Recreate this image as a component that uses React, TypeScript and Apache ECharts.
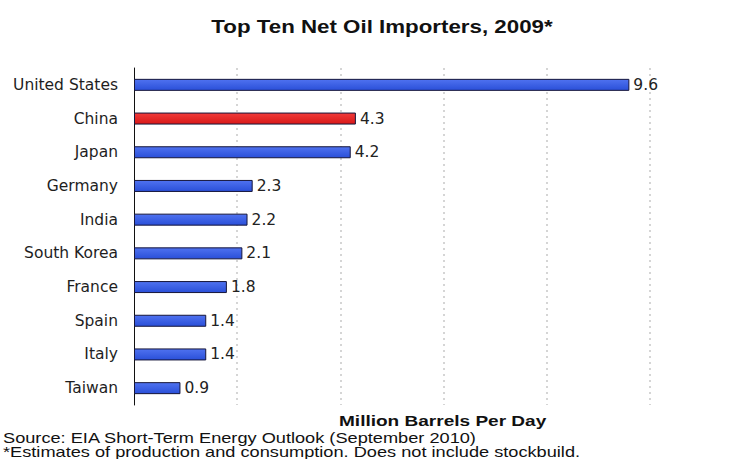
import React, { useEffect, useRef } from "react";
import * as echarts from "echarts";

const countries = [
  "United States",
  "China",
  "Japan",
  "Germany",
  "India",
  "South Korea",
  "France",
  "Spain",
  "Italy",
  "Taiwan",
];
const imports = [9.6, 4.3, 4.2, 2.3, 2.2, 2.1, 1.8, 1.4, 1.4, 0.9];
const highlighted = "China";

const titleText = "Top Ten Net Oil Importers, 2009*";
const unitText = "Million Barrels Per Day";
const sourceText = "Source: EIA Short-Term Energy Outlook (September 2010)";
const noteText = "*Estimates of production and consumption. Does not include stockbuild.";

const BLUE = new echarts.graphic.LinearGradient(0, 0, 0, 1, [
  { offset: 0, color: "#4f72f0" },
  { offset: 1, color: "#2a4fd8" },
]);
const RED = new echarts.graphic.LinearGradient(0, 0, 0, 1, [
  { offset: 0, color: "#f03a3a" },
  { offset: 1, color: "#d81818" },
]);

export default function App() {
  const ref = useRef<HTMLDivElement>(null);
  useEffect(() => {
    if (!ref.current) return;
    const chart = echarts.init(ref.current, null, { renderer: "svg" });
    const font = "'Liberation Sans', Arial, sans-serif";
    const labelFont = "'DejaVu Sans', sans-serif";
    chart.setOption({
      animation: false,
      backgroundColor: "#ffffff",
      grid: { left: 134, right: 91, top: 68, bottom: 54, containLabel: false },
      xAxis: {
        type: "value",
        min: 0,
        max: 10,
        interval: 2,
        axisLine: { show: false },
        axisTick: { show: false },
        axisLabel: { show: false },
        splitLine: {
          show: true,
          showMinLine: false,
          lineStyle: { color: "#c8c8c8", type: [2, 4], width: 1.5 },
        },
      },
      yAxis: {
        type: "category",
        data: countries,
        inverse: true,
        axisLine: { show: true, lineStyle: { color: "#111111", width: 1 } },
        axisTick: { show: false },
        axisLabel: {
          color: "#1e1e1e",
          fontFamily: labelFont,
          fontSize: 15.5,
          margin: 16,
        },
        splitLine: { show: false },
      },
      series: [
        {
          type: "bar",
          barWidth: 12,
          data: imports.map((v, i) => ({
            value: v,
            itemStyle: { color: countries[i] === highlighted ? RED : BLUE },
          })),
          itemStyle: { borderColor: "#15153a", borderWidth: 1 },
          label: {
            show: true,
            position: "right",
            distance: 4,
            color: "#222222",
            fontFamily: labelFont,
            fontSize: 15.5,
            formatter: (p: any) => p.value.toFixed(1),
          },
        },
      ],
      graphic: [
        {
          type: "text",
          x: 382,
          y: 27,
          scaleX: 1.24,
          style: {
            text: titleText,
            fill: "#111111",
            font: `bold 18px ${font}`,
            textAlign: "center",
            textVerticalAlign: "middle",
          },
        },
        {
          type: "text",
          x: 339,
          y: 421,
          scaleX: 1.27,
          style: {
            text: unitText,
            fill: "#111111",
            font: `bold 15px ${font}`,
            textAlign: "left",
            textVerticalAlign: "middle",
          },
        },
        {
          type: "text",
          x: 3,
          y: 438,
          scaleX: 1.3,
          style: {
            text: sourceText,
            fill: "#111111",
            font: `14px ${font}`,
            textAlign: "left",
            textVerticalAlign: "middle",
          },
        },
        {
          type: "text",
          x: 3,
          y: 452,
          scaleX: 1.3,
          style: {
            text: noteText,
            fill: "#111111",
            font: `14px ${font}`,
            textAlign: "left",
            textVerticalAlign: "middle",
          },
        },
      ],
    });
    return () => chart.dispose();
  }, []);
  return (
    <div
      ref={ref}
      style={{ position: "fixed", left: 0, top: 0, width: 741, height: 459 }}
    />
  );
}
